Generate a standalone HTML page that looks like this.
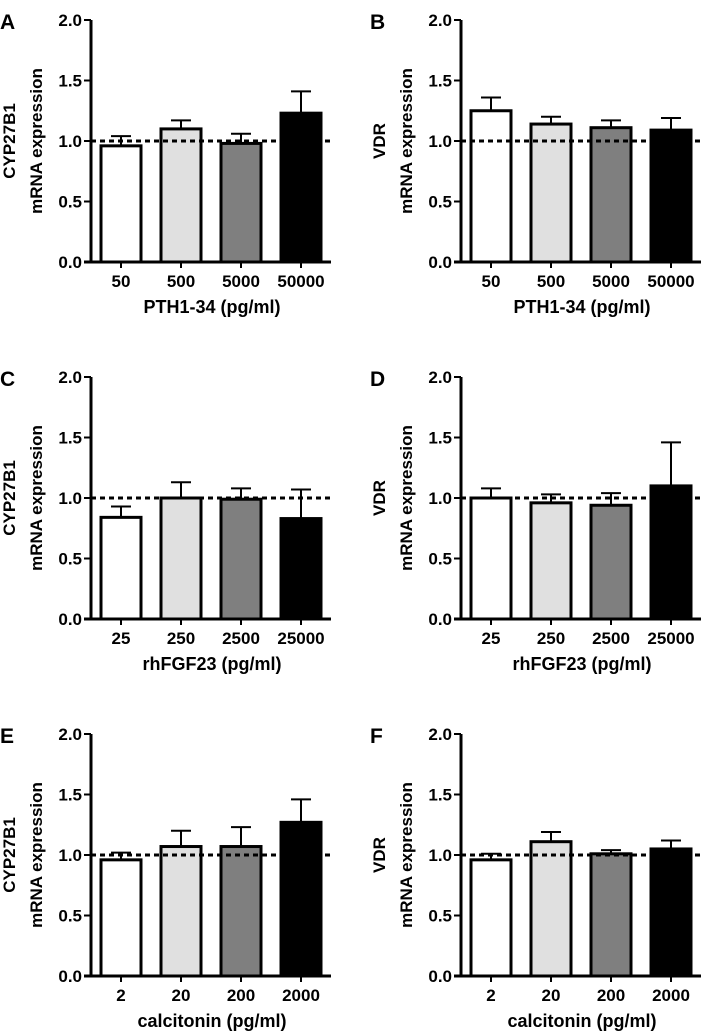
<!DOCTYPE html>
<html><head><meta charset="utf-8"><style>
html,body{margin:0;padding:0;background:#fff;}
svg{display:block;font-family:"Liberation Sans",Arial,sans-serif;font-weight:bold;}
</style></head><body>
<svg id="fig" width="708" height="1035" viewBox="0 0 708 1035"></svg>
<script>
const panelLetters=["A","B","C","D","E","F"];
const yLabels=["CYP27B1","VDR","CYP27B1","VDR","CYP27B1","VDR"];
const xTitles=["PTH1-34 (pg/ml)","PTH1-34 (pg/ml)","rhFGF23 (pg/ml)","rhFGF23 (pg/ml)","calcitonin (pg/ml)","calcitonin (pg/ml)"];
const catA=["50","500","5000","50000"];
const catC=["25","250","2500","25000"];
const catE=["2","20","200","2000"];
const means=[[0.96,1.10,0.98,1.23],[1.25,1.14,1.11,1.09],[0.84,1.00,0.99,0.83],[1.00,0.96,0.94,1.10],[0.96,1.07,1.07,1.27],[0.96,1.11,1.01,1.05]];
const errTops=[[1.04,1.17,1.06,1.41],[1.36,1.20,1.17,1.19],[0.93,1.13,1.08,1.07],[1.08,1.03,1.04,1.46],[1.02,1.20,1.23,1.46],[1.01,1.19,1.04,1.12]];
const yTicks=[0,0.5,1.0,1.5,2.0];
const fills=["#ffffff","#e0e0e0","#7f7f7f","#000000"];
const svg=document.getElementById('fig');
const NS="http://www.w3.org/2000/svg";
function mk(tag,attrs,parent){const e=document.createElementNS(NS,tag);for(const k in attrs)e.setAttribute(k,attrs[k]);parent.appendChild(e);return e;}
for(let p=0;p<6;p++){
  const col=p%2,row=Math.floor(p/2);
  const ox=91+col*370, oy0=262+row*357;
  const ppu=121;
  const y=v=>oy0-v*ppu;
  const x=i=>ox+30+i*60;
  const cats=row===0?catA:row===1?catC:catE;
  const g=mk('g',{},svg);
  
  
  const L=mk('text',{x:ox-91,y:oy0-233,'font-size':21},g);L.textContent=panelLetters[p];
  
  for(let i=0;i<4;i++){
    const e=mk('line',{x1:x(i),x2:x(i),y1:y(means[p][i]),y2:y(errTops[p][i]),stroke:'#000','stroke-width':2},g);
    
    const c=mk('line',{x1:x(i)-10,x2:x(i)+10,y1:y(errTops[p][i]),y2:y(errTops[p][i]),stroke:'#000','stroke-width':2},g);
    
    const b=mk('rect',{x:x(i)-20,y:y(means[p][i]),width:40,height:oy0-y(means[p][i]),fill:fills[i],stroke:'#000','stroke-width':3},g);
    
    const t=mk('text',{x:x(i),y:oy0+25,'font-size':17,'text-anchor':'middle'},g);t.textContent=cats[i];
    
  }
  const d=mk('line',{x1:ox,x2:ox+243,y1:y(1),y2:y(1),stroke:'#000','stroke-width':3,'stroke-dasharray':'5,4'},g);
  
  const ya=mk('line',{x1:ox,x2:ox,y1:y(2),y2:oy0+1.5,stroke:'#000','stroke-width':3},g);
  
  const xa=mk('line',{x1:ox-7,x2:ox+240,y1:oy0,y2:oy0,stroke:'#000','stroke-width':3},g);
  
  for(let i=0;i<4;i++){const tk=mk('line',{x1:x(i),x2:x(i),y1:oy0,y2:oy0+6,stroke:'#000','stroke-width':2},g);
    }
  for(const v of yTicks){
    const tk=mk('line',{x1:ox-7,x2:ox,y1:y(v),y2:y(v),stroke:'#000','stroke-width':2},g);
    
    const t=mk('text',{x:ox-9,y:y(v)+6,'font-size':17,'text-anchor':'end'},g);t.textContent=v.toFixed(1);
    
  }
  const cy=y(1);
  const yl=mk('text',{x:0,y:0,'font-size':17,'text-anchor':'middle',transform:`translate(${ox-76},${cy}) rotate(-90)`},g);
  mk('tspan',{x:0,dy:0},yl).textContent=yLabels[p];
  mk('tspan',{x:0,dy:27},yl).textContent="mRNA expression";
  
  const xt=mk('text',{x:ox+121,y:oy0+51,'font-size':18,'text-anchor':'middle'},g);xt.textContent=xTitles[p];
  
}
</script>
</body></html>
